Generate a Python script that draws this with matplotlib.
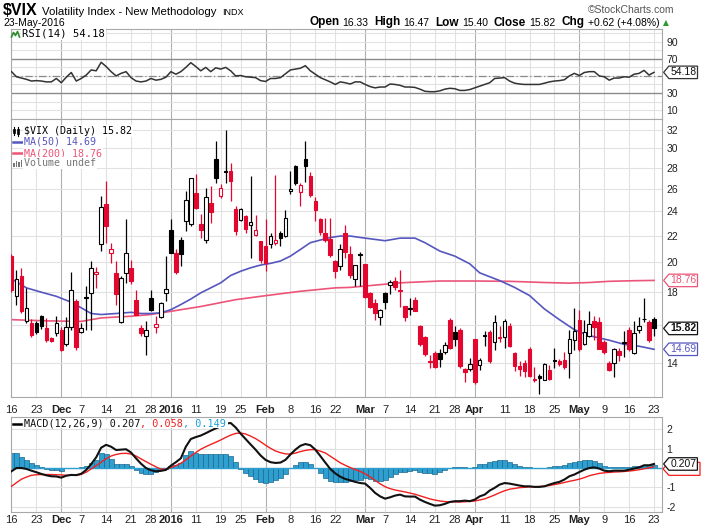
import numpy as np
import pandas as pd
import matplotlib
matplotlib.use("Agg")
import matplotlib.pyplot as plt
from matplotlib.path import Path
from matplotlib.lines import Line2D
from matplotlib.patches import Rectangle, Polygon
from matplotlib.transforms import blended_transform_factory
from matplotlib.ticker import NullLocator

plt.rcParams['font.family'] = ['Liberation Sans', 'DejaVu Sans']

# ---------------- data ----------------
holidays = ['2015-11-26', '2015-12-25', '2016-01-01', '2016-01-18', '2016-02-15', '2016-03-25']
dates = [d for d in pd.bdate_range('2015-11-16', '2016-05-23') if d.strftime('%Y-%m-%d') not in holidays]
date_str = [d.strftime('%Y-%m-%d') for d in dates]

tick_dates = ['2015-11-16', '2015-11-23', '2015-12-01', '2015-12-07', '2015-12-14', '2015-12-21', '2015-12-28',
              '2016-01-04', '2016-01-11', '2016-01-19', '2016-01-25', '2016-02-01', '2016-02-08', '2016-02-16',
              '2016-02-22', '2016-03-01', '2016-03-07', '2016-03-14', '2016-03-21', '2016-03-28', '2016-04-01',
              '2016-04-11', '2016-04-18', '2016-04-25', '2016-05-02', '2016-05-09', '2016-05-16', '2016-05-23']
tick_labels = ['16', '23', 'Dec', '7', '14', '21', '28', '2016', '11', '19', '25', 'Feb', '8', '16', '22',
               'Mar', '7', '14', '21', '28', 'Apr', '11', '18', '25', 'May', '9', '16', '23']
month_labels = ['Dec', '2016', 'Feb', 'Mar', 'Apr', 'May']

open_ = [20.45, 17.77, 19.05, 16.22, 16.13, 16.13, 16.52, 15.85, 15.30, 15.57,
         15.75, 14.98, 15.90, 17.42, 15.62, 17.67, 17.95, 19.17, 21.33, 24.62,
         20.70, 19.24, 16.17, 19.29, 19.62, 17.52, 15.85, 15.42, 17.62, 15.90,
         16.48, 17.91, 22.44, 20.70, 21.65, 23.16, 22.90, 25.57, 22.90, 21.65,
         24.70, 28.86, 25.30, 27.70, 27.70, 24.15, 23.25, 23.58, 22.80, 22.08,
         21.57, 21.22, 21.33, 21.40, 22.17, 22.00, 25.78, 28.20, 25.68, 28.90,
         27.20, 24.90, 23.35, 22.22, 21.70, 20.10, 19.75, 22.17, 20.57, 18.86,
         20.57, 19.86, 17.95, 17.30, 16.45, 17.95, 18.45, 18.75, 18.16, 17.12,
         16.98, 17.52, 15.95, 15.35, 14.07, 14.50, 14.48, 14.53, 16.32, 15.60,
         15.75, 13.70, 13.70, 15.25, 13.88, 15.48, 15.60, 15.10, 15.30, 15.36,
         15.95, 14.50, 13.85, 14.00, 14.70, 13.15, 13.35, 13.18, 13.66, 14.15,
         14.10, 14.15, 14.48, 15.17, 16.32, 14.95, 15.42, 16.25, 16.20, 15.10,
         13.98, 13.98, 14.60, 15.10, 15.75, 14.50, 15.72, 16.38, 16.18, 16.33]
high = [20.60, 19.50, 19.60, 18.27, 16.35, 16.25, 16.60, 16.40, 15.35, 16.52,
        15.90, 16.50, 19.30, 17.55, 16.10, 18.38, 20.10, 19.70, 25.30, 26.72,
        21.45, 20.10, 19.05, 23.30, 20.20, 18.16, 16.00, 16.22, 18.12, 16.52,
        17.40, 20.45, 23.35, 21.00, 21.85, 25.78, 27.03, 27.35, 23.78, 26.08,
        26.23, 30.77, 26.40, 32.05, 28.50, 24.40, 24.30, 23.65, 27.20, 23.63,
        21.60, 23.30, 22.22, 27.30, 22.35, 24.10, 27.70, 28.30, 26.55, 30.77,
        27.54, 25.20, 23.40, 23.43, 23.40, 20.20, 21.33, 22.80, 21.17, 19.80,
        20.75, 19.90, 18.00, 17.55, 16.95, 18.00, 18.80, 19.00, 19.50, 17.12,
        17.60, 17.70, 16.00, 15.40, 14.40, 14.60, 14.70, 15.05, 16.40, 15.95,
        15.85, 13.76, 14.25, 15.25, 14.25, 15.70, 15.75, 16.60, 15.95, 16.35,
        16.15, 14.55, 14.08, 14.15, 14.80, 13.80, 13.45, 14.00, 13.90, 14.75,
        14.20, 14.57, 15.75, 17.00, 16.90, 16.32, 16.80, 16.55, 16.50, 15.20,
        14.10, 14.75, 14.75, 15.66, 15.90, 16.22, 16.50, 17.60, 16.30, 16.47]
low = [18.00, 17.20, 16.70, 16.10, 15.35, 15.50, 15.80, 15.10, 15.05, 15.38,
       14.62, 14.85, 15.75, 14.65, 15.55, 15.75, 15.72, 18.27, 20.82, 21.45,
       19.97, 17.22, 16.12, 18.60, 18.55, 16.60, 15.38, 14.40, 16.85, 15.57,
       16.42, 17.42, 20.65, 19.17, 19.75, 22.35, 22.75, 24.20, 21.83, 21.40,
       23.03, 26.55, 25.10, 26.55, 24.90, 22.08, 23.15, 22.20, 20.33, 21.97,
       19.97, 19.38, 21.07, 21.30, 21.22, 21.90, 25.47, 26.35, 24.40, 26.60,
       25.20, 23.16, 22.08, 21.50, 20.40, 18.93, 19.50, 20.33, 18.93, 18.38,
       18.38, 17.62, 17.00, 16.30, 16.00, 16.95, 17.90, 18.15, 17.10, 16.25,
       16.60, 16.80, 14.85, 14.35, 13.75, 13.75, 13.80, 14.44, 14.70, 14.85,
       13.75, 13.06, 13.60, 13.00, 13.65, 14.88, 14.00, 14.66, 15.05, 14.75,
       14.80, 13.60, 13.35, 13.33, 13.30, 13.10, 12.55, 13.15, 13.15, 13.75,
       13.85, 13.70, 13.26, 14.66, 14.60, 14.90, 15.35, 15.20, 14.70, 14.45,
       13.60, 13.33, 14.07, 14.30, 14.60, 14.45, 15.57, 16.20, 15.10, 15.40]
close = [18.16, 18.84, 16.85, 16.99, 15.47, 15.62, 15.93, 15.19, 15.12, 16.13,
         14.67, 15.91, 18.11, 14.81, 15.84, 17.60, 19.61, 19.34, 24.39, 22.73,
         20.95, 17.86, 18.94, 20.70, 18.70, 16.60, 15.57, 15.74, 16.91, 16.08,
         17.29, 18.21, 20.70, 19.34, 20.59, 24.99, 27.01, 24.30, 22.47, 25.22,
         23.95, 27.02, 26.05, 27.59, 26.69, 22.34, 24.15, 22.50, 23.11, 22.42,
         20.20, 19.98, 21.98, 21.65, 21.84, 23.38, 26.00, 26.54, 26.29, 28.14,
         25.40, 24.11, 22.31, 21.64, 20.53, 19.38, 20.98, 20.72, 19.11, 19.81,
         20.55, 17.70, 17.09, 16.70, 16.86, 17.35, 18.67, 18.34, 18.05, 16.50,
         16.92, 16.84, 14.99, 14.44, 14.02, 13.79, 14.17, 14.94, 14.74, 15.24,
         13.82, 13.56, 13.95, 13.10, 14.12, 15.42, 14.09, 16.16, 15.36, 16.26,
         14.85, 13.84, 13.72, 13.62, 13.35, 13.24, 13.28, 13.95, 13.22, 14.08,
         13.96, 13.77, 15.22, 15.70, 14.68, 15.60, 16.05, 15.91, 14.72, 14.57,
         13.63, 14.69, 14.41, 15.04, 14.68, 15.57, 15.95, 16.33, 15.20, 15.82]

ma50_day = [0, 3, 6, 9, 12, 14, 16, 18, 21, 24, 26, 28, 30, 32, 34, 36, 38, 40, 42, 44, 46, 48, 50, 52, 54,
            56, 58, 60, 62, 64, 66, 68, 71, 75, 78, 81, 83, 86, 89, 92, 94, 98, 101, 104, 107, 110, 113,
            116, 120, 123, 126, 129]
ma50 = [18.86, 18.27, 17.99, 17.73, 17.36, 17.02, 16.68, 16.62, 16.68, 16.75, 16.68, 16.68, 16.72, 16.91,
        17.22, 17.56, 17.95, 18.27, 18.60, 19.09, 19.38, 19.62, 19.81, 19.93, 20.10, 20.45, 20.94, 21.45,
        21.65, 21.85, 21.96, 21.96, 21.80, 21.60, 21.80, 21.80, 21.45, 20.82, 20.45, 19.90, 19.27, 18.75,
        18.30, 17.78, 16.95, 16.32, 15.75, 15.42, 15.17, 14.95, 14.85, 14.69]
ma200_day = [0, 7, 14, 18, 24, 28, 32, 38, 45, 51, 58, 65, 68, 73, 78, 86, 93, 100, 107, 112, 116, 120, 125, 129]
ma200 = [16.32, 16.25, 16.22, 16.42, 16.52, 16.62, 16.81, 17.10, 17.52, 17.77, 18.05, 18.27, 18.30, 18.45,
         18.60, 18.72, 18.72, 18.70, 18.62, 18.58, 18.62, 18.70, 18.74, 18.76]

rsi = [55, 49, 47.5, 46, 44, 44.5, 44, 43, 43, 47,
       42, 48.5, 54, 44, 47, 51, 57, 56, 66, 61,
       55, 50, 53, 55, 48, 44, 43, 44, 47, 45,
       46, 48.5, 55, 52, 55, 60, 65.5, 61, 56, 60,
       55, 59.5, 58, 60, 56, 50, 50.5, 49, 48.5, 48,
       44.5, 43.5, 47, 47, 48, 52.5, 57, 58, 59, 62,
       56, 52, 48, 45.5, 43, 40, 43, 42, 40.5, 43,
       43, 40, 37.5, 36, 37, 37, 40.5, 40, 39, 37,
       37, 36.5, 34.5, 32, 31.5, 31.5, 32.5, 34.5, 35.5, 35,
       33, 33, 34, 36, 38, 40, 42, 47, 47.5, 48,
       44, 41.5, 40.5, 40, 40, 40, 40, 41.5, 43, 44,
       44.5, 45.5, 50, 53, 50.5, 54, 55, 55, 50, 49,
       45, 47.5, 47.5, 49, 48.5, 52, 53, 56.5, 51, 54.18]

macd = [-0.17, 0.0, 0.0, -0.05, -0.14, -0.22, -0.31, -0.38, -0.43, -0.44,
        -0.50, -0.40, -0.36, -0.37, -0.30, -0.10, 0.20, 0.55, 1.05, 1.20,
        1.10, 0.93, 0.95, 0.97, 0.80, 0.50, 0.22, 0.0, -0.12, -0.17,
        -0.15, -0.10, 0.12, 0.30, 0.50, 1.10, 1.50, 1.60, 1.68, 1.80,
        1.93, 2.05, 2.15, 2.30, 2.33, 2.10, 1.78, 1.50, 1.22, 0.95,
        0.65, 0.42, 0.30, 0.26, 0.28, 0.42, 0.70, 0.95, 1.15, 1.24,
        1.18, 0.95, 0.62, 0.28, -0.05, -0.28, -0.45, -0.57, -0.64, -0.72,
        -0.78, -0.81, -1.03, -1.29, -1.47, -1.59, -1.52, -1.43, -1.38, -1.47,
        -1.48, -1.48, -1.64, -1.76, -1.86, -1.95, -1.93, -1.86, -1.76, -1.72,
        -1.72, -1.69, -1.72, -1.64, -1.47, -1.38, -1.17, -1.03, -0.86, -0.78,
        -0.81, -0.86, -0.91, -0.95, -0.95, -0.98, -0.98, -0.95, -0.86, -0.78,
        -0.72, -0.60, -0.43, -0.34, -0.21, -0.09, 0.0, 0.03, -0.03, -0.14,
        -0.17, -0.14, -0.14, -0.14, -0.09, -0.03, 0.03, 0.14, 0.14, 0.207]
signal = [-0.95, -0.76, -0.58, -0.47, -0.38, -0.35, -0.34, -0.34, -0.34, -0.35,
          -0.36, -0.38, -0.38, -0.38, -0.33, -0.22, -0.05, 0.12, 0.30, 0.48,
          0.62, 0.70, 0.75, 0.76, 0.72, 0.62, 0.47, 0.33, 0.19, 0.06,
          -0.06, -0.06, 0.02, 0.12, 0.25, 0.42, 0.62, 0.80, 0.97, 1.10,
          1.22, 1.33, 1.45, 1.58, 1.70, 1.79, 1.81, 1.76, 1.65, 1.52,
          1.36, 1.18, 1.02, 0.88, 0.79, 0.73, 0.72, 0.77, 0.85, 0.91,
          0.95, 0.95, 0.87, 0.78, 0.61, 0.44, 0.27, 0.14, 0.02, -0.08,
          -0.18, -0.30, -0.46, -0.64, -0.82, -0.97, -1.07, -1.14, -1.19, -1.24,
          -1.30, -1.36, -1.44, -1.52, -1.60, -1.66, -1.71, -1.74, -1.76, -1.76,
          -1.76, -1.75, -1.73, -1.71, -1.66, -1.60, -1.50, -1.40, -1.28, -1.18,
          -1.10, -1.06, -1.02, -1.00, -0.98, -0.97, -0.96, -0.94, -0.91, -0.86,
          -0.81, -0.75, -0.69, -0.64, -0.58, -0.50, -0.40, -0.34, -0.28, -0.25,
          -0.23, -0.21, -0.20, -0.18, -0.16, -0.13, -0.09, -0.04, 0.01, 0.058]

price_ticks = [14, 16, 18, 20, 22, 24, 26, 28, 30, 32]
price_tick_labels = ['14', '', '18', '20', '22', '24', '26', '28', '30', '32']   # 16 sits under the close tag
rsi_ticks = [10, 30, 70, 90]
macd_ticks = [-2, -1, 1, 2]

# ---------------- styling ----------------
W, H = 705, 528
RED = '#E3072F'
BLUE = '#5656BF'
PINK = '#EC5478'
HIST = '#2F9FD0'
HIST_EDGE = '#1C6990'
GRID = '#E2E2E2'
MGRID = '#B0B0B0'
MONO = ['DejaVu Sans Mono']
SANS = ['Liberation Sans', 'DejaVu Sans']

fig = plt.figure(figsize=(W / 100, H / 100), dpi=100)
fig.patch.set_facecolor('white')


def fx(px):
    return px / W


def fy(py):
    return 1 - py / H


def rect(left, top, right, bottom):
    return [left / W, 1 - bottom / H, (right - left) / W, (bottom - top) / H]


ax_r = fig.add_axes(rect(11, 29, 662, 119))
ax_p = fig.add_axes(rect(11, 119, 662, 397))
ax_m = fig.add_axes(rect(11, 417, 662, 512))

n = len(close)
x = np.arange(n)
tick_idx = [date_str.index(d) for d in tick_dates]
XLIM = (-0.1, 130.6)

for ax in (ax_r, ax_p, ax_m):
    ax.set_xlim(*XLIM)
    for sp in ax.spines.values():
        sp.set_color('#A8A8A8')
        sp.set_linewidth(0.8)
    for ti, lab in zip(tick_idx, tick_labels):
        ax.axvline(ti, color=MGRID if lab in month_labels else GRID, lw=0.8, zorder=0.5)
    ax.yaxis.tick_right()
    ax.tick_params(axis='y', length=0, pad=3, labelsize=7.5, labelcolor='#222222')
    ax.yaxis.set_minor_locator(NullLocator())

# ---------------- RSI ----------------
ax_r.set_ylim(-0.5, 105)
for v in range(10, 101, 10):
    if v in (30, 70):
        continue
    ax_r.axhline(v, color=GRID, lw=0.8, zorder=0.6)
ax_r.axhline(70, color='#8A8A8A', lw=1.0, zorder=1)
ax_r.axhline(30, color='#8A8A8A', lw=1.0, zorder=1)
ax_r.axhline(50, color='#8A8A8A', lw=0.9, ls=(0, (6, 2, 1, 2)), zorder=1)
ax_r.plot(x, rsi, color='#333333', lw=1.1, zorder=3)
ax_r.set_yticks(rsi_ticks)
ax_r.set_yticklabels([str(t) for t in rsi_ticks])
ax_r.set_xticks([])

# ---------------- price ----------------
o, h, l, c = (np.array(a, dtype=float) for a in (open_, high, low, close))
prev = np.r_[o[0], c[:-1]]
col = np.where(c >= prev, 'black', RED)
face = np.where(c > o, 'white', col)
ax_p.set_yscale('log')
ax_p.set_ylim(12.4, 33.28)
for t in price_ticks:
    ax_p.axhline(t, color=GRID, lw=0.8, zorder=0.6)
ax_p.plot(ma200_day, ma200, color=PINK, lw=1.2, zorder=2)
ax_p.plot(ma50_day, ma50, color=BLUE, lw=1.2, zorder=2)
ax_p.vlines(x, l, h, colors=col, lw=0.9, zorder=3)
ax_p.bar(x, np.maximum(np.abs(c - o), 0.04), bottom=np.minimum(o, c), width=0.72,
         color=face, edgecolor=col, linewidth=0.8, zorder=4)
ax_p.set_yticks(price_ticks)
ax_p.set_yticklabels(price_tick_labels)
ax_p.yaxis.set_minor_locator(NullLocator())
ax_p.set_xticks(tick_idx)
ax_p.set_xticklabels(tick_labels)
ax_p.tick_params(axis='x', length=0, pad=5.5, labelsize=8, labelcolor='#222222')

# ---------------- MACD ----------------
m = np.array(macd)
s = np.array(signal)
hist = m - s
ax_m.set_ylim(-2.28, 2.64)
for v in (-2, -1, 0, 1, 2):
    ax_m.axhline(v, color=GRID, lw=0.8, zorder=0.6)
ax_m.bar(x, hist, width=1.0, color=HIST, edgecolor=HIST_EDGE, linewidth=0.5, zorder=2)
ax_m.axhline(0, color=HIST, lw=1.0, zorder=2.1)
ax_m.plot(x, s, color='#F21F1F', lw=1.0, zorder=3)
ax_m.plot(x, m, color='#111111', lw=1.5, zorder=4)
ax_m.set_yticks(macd_ticks)
ax_m.set_yticklabels([str(t) for t in macd_ticks])
ax_m.set_xticks(tick_idx)
ax_m.set_xticklabels(tick_labels)
ax_m.tick_params(axis='x', length=0, pad=2, labelsize=8, labelcolor='#222222')

for ax in (ax_p, ax_m):
    for lab in ax.get_xticklabels():
        if lab.get_text() in month_labels:
            lab.set_fontweight('bold')


# ---------------- value tags ----------------
def tag_box(x0, y0, width, height, mutation_size):
    pad = 0.12 * mutation_size
    x0, y0 = x0 - pad, y0 - pad
    width, height = width + 2 * pad, height + 2 * pad
    tip = 0.42 * height
    return Path([(x0 - tip, y0 + height / 2), (x0, y0), (x0 + width, y0),
                 (x0 + width, y0 + height), (x0, y0 + height), (x0 - tip, y0 + height / 2)],
                closed=True)


def tag(ax, val, text, ec, tc, bold=False, z=10):
    tr = blended_transform_factory(ax.transAxes, ax.transData)
    ax.text(1.0125, val, text, transform=tr, ha='left', va='center', fontsize=7.5, color=tc,
            fontweight='bold' if bold else 'normal', clip_on=False, zorder=z,
            bbox=dict(boxstyle=tag_box, fc='white', ec=ec, lw=0.9))


tag(ax_r, rsi[-1], '54.18', '#333333', '#111111')
tag(ax_p, ma200[-1], '18.76', PINK, PINK)
tag(ax_p, ma50[-1], '14.69', BLUE, BLUE)
tag(ax_p, close[-1], '15.82', '#111111', '#111111', bold=True, z=11)

# signal-line tag peeking out under the MACD tag (its text is hidden, as in the chart)
y_sig = ax_m.transData.transform((0, signal[-1]))[1]
sig_top = H - y_sig - 4.5
sig_poly = Polygon([(fx(663), fy(sig_top + 6.5)), (fx(669), fy(sig_top)), (fx(700), fy(sig_top)),
                    (fx(700), fy(sig_top + 13)), (fx(669), fy(sig_top + 13))], closed=True,
                   transform=fig.transFigure, fc='white', ec='#F21F1F', lw=0.9, zorder=9, clip_on=False)
ax_m.add_artist(sig_poly)
tag(ax_m, macd[-1], '0.207', '#111111', '#111111', z=11)


# ---------------- legends & header ----------------
def pline(xs, ys, **kw):
    fig.add_artist(Line2D([fx(v) for v in xs], [fy(v) for v in ys], transform=fig.transFigure, **kw))


def prect(x0, y0, w, hgt, **kw):
    fig.add_artist(Rectangle((fx(x0), fy(y0 + hgt)), w / W, hgt / H, transform=fig.transFigure, **kw))


renderer = fig.canvas.get_renderer()


def seq(xp, yp, parts, ha='left', va='baseline'):
    objs, gaps = [], []
    for txt, kw, gap in parts:
        t = fig.text(0, 0, txt, va=va, ha='left', **kw)
        objs.append(t)
        gaps.append(gap)
    widths = [t.get_window_extent(renderer).width for t in objs]
    total = sum(widths) + sum(gaps[:-1])
    cx = xp if ha == 'left' else xp - total
    for t, w_, g in zip(objs, widths, gaps):
        t.set_position((fx(cx), fy(yp)))
        cx += w_ + g
    return objs


# header
seq(3, 15, [('$VIX', dict(fontsize=11.5, fontweight='bold', family=SANS), 4),
            ('Volatility Index - New Methodology', dict(fontsize=8.2, family=SANS), 6),
            ('INDX', dict(fontsize=6.5, family=SANS), 0)])
fig.text(fx(3), fy(25.5), '23-May-2016', fontsize=7.5, family=SANS, va='baseline')
fig.text(fx(674), fy(13), '\u00a9StockCharts.com', fontsize=7.5, family=SANS, color='#555555',
         ha='right', va='baseline')
B = dict(fontsize=8.5, fontweight='bold', family=SANS)
Nn = dict(fontsize=7.5, family=SANS)
seq(669, 25.5, [('Open', B, 3), ('16.33', Nn, 6), ('High', B, 3), ('16.47', Nn, 6), ('Low', B, 3),
                ('15.40', Nn, 6), ('Close', B, 3), ('15.82', Nn, 6), ('Chg', B, 3),
                ('+0.62 (+4.08%)', Nn, 4), ('\u25b2', dict(fontsize=5.5, family=['DejaVu Sans'], color='#2C9A2C'), 0)],
    ha='right')

LBG = dict(boxstyle='square,pad=0.1', fc='white', ec='none')
# RSI legend
pline([11.5, 13.5, 15.5, 17.5, 19.5], [37, 32.5, 35.5, 31.5, 37], color='#2E8B2E', lw=1.2)
fig.text(fx(22), fy(34), 'RSI(14) 54.18', fontsize=7.6, family=MONO, va='center', bbox=LBG)

# price legend
pline([14, 14], [126.5, 135], color='black', lw=0.8)
prect(12.8, 128.5, 2.4, 4, fc='black', ec='black', lw=0.5)
pline([18, 18], [127, 135.5], color='black', lw=0.8)
prect(16.8, 129, 2.4, 4.5, fc='white', ec='black', lw=0.6)
fig.text(fx(24), fy(131), '$VIX (Daily) 15.82', fontsize=7.2, family=MONO, va='center', bbox=LBG)
pline([13, 22], [142, 142], color=BLUE, lw=1.8)
fig.text(fx(24), fy(142), 'MA(50) 14.69', fontsize=7.2, family=MONO, color=BLUE, va='center', bbox=LBG)
pline([13, 22], [153, 153], color=PINK, lw=1.8)
fig.text(fx(24), fy(153), 'MA(200) 18.76', fontsize=7.2, family=MONO, color=PINK, va='center', bbox=LBG)
for bx, bh in ((13, 4), (15.5, 6), (18, 5), (20.5, 7)):
    prect(bx, 167 - bh, 1.8, bh, fc='#777777', ec='none')
fig.text(fx(24), fy(163.5), 'Volume undef', fontsize=7.2, family=MONO, color='#777777', va='center', bbox=LBG)

# MACD legend
MK = dict(fontsize=7.3, family=MONO)
objs = seq(24, 423.5, [('MACD(12,26,9) 0.207', dict(MK, color='#111111'), 0),
                       (', 0.058', dict(MK, color='#F21F1F'), 0),
                       (', 0.149', dict(MK, color='#1AA0DA'), 0)], va='center')
right_end = objs[-1].get_window_extent(renderer).x1 + 2
prect(12, 419.5, right_end - 12, 8.5, fc='white', ec='none', zorder=5)
pline([13, 21], [423.5, 423.5], color='black', lw=1.8, zorder=6)
for t in objs:
    t.set_zorder(7)

fig.savefig('out.png', dpi=100, facecolor='white')
